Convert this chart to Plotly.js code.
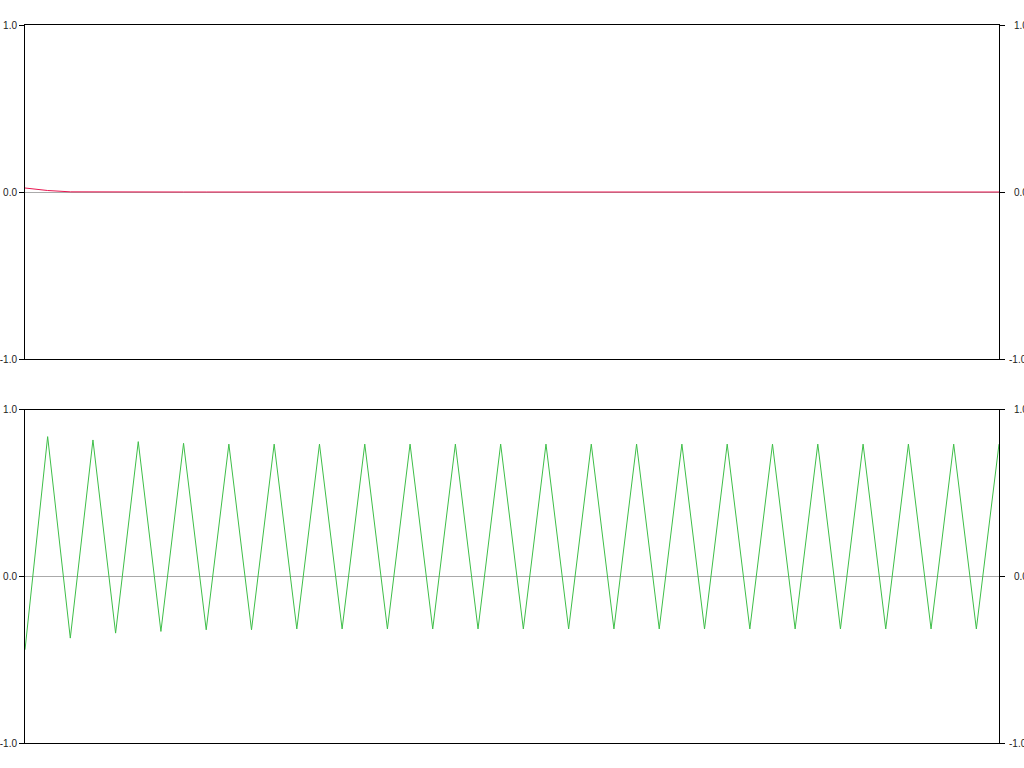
<!DOCTYPE html>
<html>
<head>
<meta charset="utf-8">
<script src="https://cdn.plot.ly/plotly-3.0.1.min.js"></script>
<style>html,body{margin:0;padding:0;background:#fff;}#chart{width:1024px;height:768px;}</style>
</head>
<body>
<div id="chart"></div>
<script>
const steps = [0,1,2,3,4,5,6,7,8,9,10,11,12,13,14,15,16,17,18,19,20,21,22,23,24,25,26,27,28,29,30,31,32,33,34,35,36,37,38,39,40,41,42,43];
const topSeries = [0.024,0.009,0.001,0,0,0,0,0,0,0,0,0,0,0,0,0,0,0,0,0,0,0,0,0,0,0,0,0,0,0,0,0,0,0,0,0,0,0,0,0,0,0,0,0];
const bottomSeries = [-0.44,0.84,-0.37,0.82,-0.34,0.81,-0.33,0.80,-0.32,0.795,-0.32,0.795,-0.315,0.795,-0.315,0.795,-0.315,0.795,-0.315,0.795,-0.315,0.795,-0.315,0.795,-0.315,0.795,-0.315,0.795,-0.315,0.795,-0.315,0.795,-0.315,0.795,-0.315,0.795,-0.315,0.795,-0.315,0.795,-0.315,0.795,-0.315,0.795];
const tickValues = [-1, 0, 1];
const tickLabels = ['-1.0', '0.0', '1.0'];
const rightTickLabels = ['-1.0', '\u20020.0', '\u20021.0'];

const font = {family: 'Liberation Sans, Arial, sans-serif', size: 10, color: '#222'};
const traces = [
  {x: steps, y: topSeries, xaxis: 'x', yaxis: 'y', mode: 'lines', line: {color: 'rgb(232,22,80)', width: 1}, hoverinfo: 'none'},
  {x: steps, y: bottomSeries, xaxis: 'x2', yaxis: 'y2', mode: 'lines', line: {color: 'rgb(62,190,72)', width: 1}, hoverinfo: 'none'},
  {x: steps, y: topSeries, xaxis: 'x', yaxis: 'y3', mode: 'lines', opacity: 0, hoverinfo: 'none'},
  {x: steps, y: bottomSeries, xaxis: 'x2', yaxis: 'y4', mode: 'lines', opacity: 0, hoverinfo: 'none'}
];
function xax(anchor) {
  return {anchor: anchor, range: [0, 43], showline: true, mirror: true, linecolor: '#000', linewidth: 1,
    showgrid: false, zeroline: false, showticklabels: false, ticks: ''};
}
function yax(domain, anchor, side, overlay) {
  const a = {domain: domain, anchor: anchor, side: side, range: [-1, 1], showline: true, linecolor: '#000', linewidth: 1,
    showgrid: false, zeroline: !overlay, zerolinecolor: '#aaa', zerolinewidth: 1,
    ticks: 'outside', ticklen: 5, tickwidth: 1, tickcolor: '#000',
    ticklabelstandoff: overlay ? 2 : 0,
    tickmode: 'array', tickvals: tickValues, ticktext: overlay ? rightTickLabels : tickLabels, tickfont: font};
  if (overlay) a.overlaying = overlay;
  return a;
}
const topDom = [0.5348, 1], botDom = [0, 0.4638];
const layout = {
  width: 1024, height: 768,
  margin: {l: 25, r: 25, t: 25, b: 25},
  paper_bgcolor: '#fff', plot_bgcolor: '#fff',
  showlegend: false, font: font,
  xaxis: Object.assign(xax('y'), {domain: [0, 1]}),
  xaxis2: Object.assign(xax('y2'), {domain: [0, 1]}),
  yaxis: yax(topDom, 'x', 'left'),
  yaxis2: yax(botDom, 'x2', 'left'),
  yaxis3: yax(topDom, 'x', 'right', 'y'),
  yaxis4: yax(botDom, 'x2', 'right', 'y2')
};
Plotly.newPlot('chart', traces, layout, {displayModeBar: false, staticPlot: true});
</script>
</body>
</html>
